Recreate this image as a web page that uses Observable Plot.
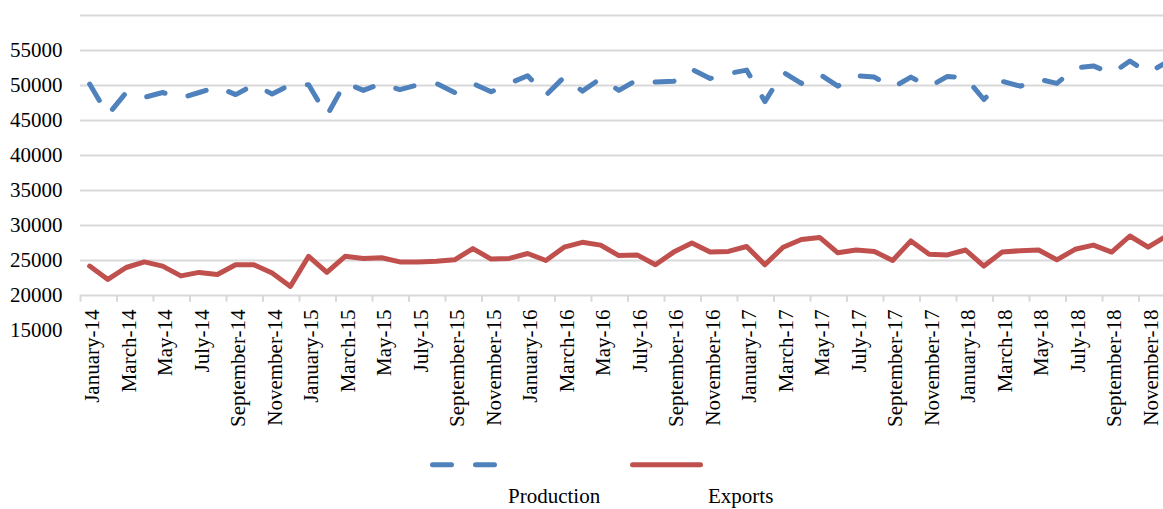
<!DOCTYPE html>
<html>
<head>
<meta charset="utf-8">
<script src="https://cdn.jsdelivr.net/npm/d3@7"></script>
<script src="https://cdn.jsdelivr.net/npm/@observablehq/plot@0.6"></script>
<style>
  html, body { margin: 0; padding: 0; background: #fff; overflow: hidden; }
  #wrap { width: 1163px; height: 509px; overflow: hidden; position: relative; }
  #chart { width: 1175px; }
  #chart svg { display: block; max-width: none !important; }
  #chart svg text { font-family: "Liberation Serif", "Times New Roman", serif !important; }
  #legend { position: relative; width: 1163px; height: 69px; }
</style>
</head>
<body>
<div id="wrap">
  <div id="chart"></div>
  <div id="legend"></div>
</div>
<script>
const months = [
  "January-14","February-14","March-14","April-14","May-14","June-14","July-14","August-14","September-14","October-14","November-14","December-14",
  "January-15","February-15","March-15","April-15","May-15","June-15","July-15","August-15","September-15","October-15","November-15","December-15",
  "January-16","February-16","March-16","April-16","May-16","June-16","July-16","August-16","September-16","October-16","November-16","December-16",
  "January-17","February-17","March-17","April-17","May-17","June-17","July-17","August-17","September-17","October-17","November-17","December-17",
  "January-18","February-18","March-18","April-18","May-18","June-18","July-18","August-18","September-18","October-18","November-18","December-18"
];

const production = [
  50200, 45800, 49000, 48300, 49000, 48200, 49000, 49800, 48700, 50100, 48800, 50100,
  50100, 45700, 50400, 49300, 50300, 49400, 50100, 50300, 49000, 50300, 49100, 50300,
  51400, 48600, 51200, 49200, 51000, 49300, 50800, 50500, 50600, 52300, 51000, 51700,
  52200, 47700, 51900, 50300, 51600, 49900, 51400, 51200, 49700, 51200, 49800, 51300,
  51100, 48000, 50600, 49900, 50900, 50300, 52500, 52800, 51700, 53500, 51800, 53300
];

const exportsSeries = [
  24200, 22300, 24000, 24800, 24200, 22800, 23300, 23000, 24400, 24400, 23200, 21300,
  25600, 23300, 25600, 25300, 25400, 24800, 24800, 24900, 25100, 26700, 25200, 25300,
  26000, 25000, 26900, 27600, 27200, 25700, 25800, 24400, 26200, 27500, 26200, 26300,
  27000, 24400, 26900, 28000, 28300, 26100, 26500, 26300, 25000, 27800, 25900, 25800,
  26500, 24200, 26200, 26400, 26500, 25100, 26600, 27200, 26200, 28500, 26900, 28500
];

const yTickLabels = [15000, 20000, 25000, 30000, 35000, 40000, 45000, 50000, 55000];
const gridValues = [20000, 25000, 30000, 35000, 40000, 45000, 50000, 55000, 60000];
const seriesNames = ["Production", "Exports"];
const seriesColors = ["#4f81bd", "#c0504d"];

const FONT = "Liberation Serif";

const idx = months.map((_, i) => i);
const prodData = idx.map(i => ({i, v: production[i]}));
const expData = idx.map(i => ({i, v: exportsSeries[i]}));
const labelIdx = idx.filter(i => i % 2 === 0);
const tickBounds = idx.filter(i => i % 2 === 0).map(i => i - 0.5).concat([59.5]);

const chart = Plot.plot({
  width: 1175,
  height: 440,
  marginLeft: 80,
  marginRight: 0,
  marginTop: 15,
  marginBottom: 110,
  style: {fontFamily: FONT, fontSize: "21px", color: "#000", background: "#fff", maxWidth: "none"},
  x: {type: "linear", domain: [-0.5, 59.5], axis: null},
  y: {domain: [15000, 60000], axis: null},
  marks: [
    Plot.ruleY(gridValues, {y: d => d, stroke: "#d9d9d9", strokeWidth: 2}),
    Plot.ruleX(tickBounds, {x: d => d, y1: 20000, y2: 19050, stroke: "#d9d9d9", strokeWidth: 2}),
    Plot.text(yTickLabels, {
      y: d => d, frameAnchor: "left", textAnchor: "end", dx: -18, text: d => String(d),
      fill: "#000", fontFamily: FONT, fontSize: 21
    }),
    Plot.text(labelIdx, {
      x: d => d, y: () => 20000, text: d => months[d],
      rotate: -90, textAnchor: "end", lineAnchor: "middle", dy: 14, dx: 3, fill: "#000",
      fontFamily: FONT, fontSize: 21
    }),
    Plot.line(expData, {x: "i", y: "v", stroke: seriesColors[1], strokeWidth: 5, strokeLinejoin: "round", strokeLinecap: "round"}),
    Plot.line(prodData, {x: "i", y: "v", stroke: seriesColors[0], strokeWidth: 5, strokeLinejoin: "round", strokeLinecap: "round", strokeDasharray: "19,24"})
  ]
});
document.getElementById("chart").appendChild(chart);

// Legend (below the chart)
const legend = document.getElementById("legend");
legend.innerHTML = `
<svg width="1163" height="69" style="display:block;font-family:'Liberation Serif','Times New Roman',serif;font-size:21px">
  <line x1="432.5" x2="494.5" y1="24.7" y2="24.7" stroke="${seriesColors[0]}" stroke-width="5" stroke-linecap="round" stroke-dasharray="19,24"/>
  <line x1="632.5" x2="700.5" y1="24.7" y2="24.7" stroke="${seriesColors[1]}" stroke-width="5" stroke-linecap="round"/>
  <text x="508" y="63" fill="#000">${seriesNames[0]}</text>
  <text x="708" y="63" fill="#000">${seriesNames[1]}</text>
</svg>`;
</script>
</body>
</html>
